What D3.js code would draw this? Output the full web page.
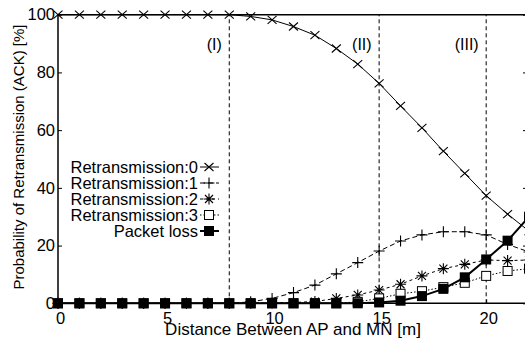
<!DOCTYPE html>
<html><head><meta charset="utf-8">
<script src="https://cdn.jsdelivr.net/npm/d3@7"></script>
<style>
body{margin:0;background:#fff;}
svg{display:block;}
text{font-family:"Liberation Sans",Arial,sans-serif;fill:#000;}
</style></head>
<body>
<script>
const distance = [0,1,2,3,4,5,6,7,8,9,10,11,12,13,14,15,16,17,18,19,20,21,22];
const retrans0 = [100,100,100,100,100,100,100,100,100,99.4,98.2,95.9,92.9,88.3,82.9,76.2,68.4,60.8,52.7,45.0,37.3,30.9,25.0];
const retrans1 = [0,0,0,0,0,0,0,0,0,0.5,1.7,3.7,6.3,10.2,14.1,18.1,21.6,23.7,24.8,24.8,23.7,20.4,17.8];
const retrans2 = [0,0,0,0,0,0,0,0,0,0,0.1,0.3,0.6,1.7,2.9,4.6,6.6,9.5,12.0,13.5,15.0,14.8,15.0];
const retrans3 = [0,0,0,0,0,0,0,0,0,0,0,0,0,0,0.5,1.7,3.3,4.2,5.6,7.1,9.5,11.2,12.0];
const packetLoss = [0,0,0,0,0,0,0,0,0,0,0,0,0,0,0,0.3,0.9,2.5,5.0,9.0,15.2,21.7,30.0];
const seriesNames = ["Retransmission:0","Retransmission:1","Retransmission:2","Retransmission:3","Packet loss"];
const xTicks = [0,5,10,15,20];
const yTicks = [0,20,40,60,80,100];
const regionBounds = [8,15,20];
const regionLabels = ["(I)","(II)","(III)"];
const xTitle = "Distance Between AP and MN [m]";
const yTitle = "Probability of Retransmission (ACK) [%]";

const W=525,H=341;
const svg=d3.select("body").append("svg").attr("width",W).attr("height",H);
const x=d3.scaleLinear().domain([0,22]).range([58,529]);
const y=d3.scaleLinear().domain([0,100]).range([303.3,14.7]);

const g=svg.append("g");
// frame
g.append("line").attr("x1",x(0)).attr("x2",W+5).attr("y1",y(100)).attr("y2",y(100)).attr("stroke","#000").attr("stroke-width",1.5);
g.append("line").attr("x1",x(0)).attr("x2",W+5).attr("y1",y(0)).attr("y2",y(0)).attr("stroke","#000").attr("stroke-width",1.5);
g.append("line").attr("x1",x(0)).attr("x2",x(0)).attr("y1",y(0)).attr("y2",y(100)).attr("stroke","#000").attr("stroke-width",1.5);
g.append("line").attr("x1",x(22)).attr("x2",x(22)).attr("y1",y(0)).attr("y2",y(100)).attr("stroke","#000").attr("stroke-width",1.5);

// axes
const xa=svg.append("g").attr("transform",`translate(0,${y(0)})`)
 .call(d3.axisBottom(x).tickValues(xTicks).tickSize(-4).tickPadding(8.5).tickFormat(d3.format("d")));
const ya=svg.append("g").attr("transform",`translate(${x(0)},0)`)
 .call(d3.axisLeft(y).tickValues(yTicks).tickSize(-4).tickPadding(3).tickFormat(d3.format("d")));
const ya2=svg.append("g").attr("transform",`translate(${x(22)},0)`)
 .call(d3.axisRight(y).tickValues(yTicks).tickSize(-6).tickFormat(""));
[xa,ya,ya2].forEach(a=>{a.select(".domain").remove();a.selectAll("text").style("font-size","16.5px").attr("font-family",null);a.selectAll("line").attr("stroke","#000");});
xa.selectAll("text").attr("dy","0.71em").attr("dx","2");

// region lines
regionBounds.forEach((b,i)=>{
  g.append("line").attr("x1",x(b)).attr("x2",x(b)).attr("y1",y(0)).attr("y2",y(100))
   .attr("stroke","#000").attr("stroke-width",1).attr("stroke-dasharray","4,3");
  g.append("text").attr("x",x(b)-7.5).attr("y",44).attr("dy","0.35em").attr("text-anchor","end").style("font-size","16px").text(regionLabels[i]);
});

const data=[retrans0,retrans1,retrans2,retrans3,packetLoss];
const dashes=[null,"5,3","3,3","1.5,2",null];
const widths=[1,1,1,1,2];
const line=d3.line().x((d,i)=>x(distance[i])).y(d=>y(d)).curve(d3.curveLinear);

function marker(sel,k,cx,cy){
  const gg=sel.append("g").attr("transform",`translate(${cx},${cy})`);
  const s="#000";
  if(k===0){
    gg.append("path").attr("d","M-4.5,-4L4.5,4M-4.5,4L4.5,-4").attr("stroke",s).attr("stroke-width",1.1).attr("fill","none");
  } else if(k===1){
    gg.append("path").attr("d","M-5.5,0L5.5,0M0,-5.5L0,5.5").attr("stroke",s).attr("stroke-width",1.1).attr("fill","none");
  } else if(k===2){
    gg.append("path").attr("d","M-5.5,0L5.5,0M0,-5.5L0,5.5M-4,-4L4,4M-4,4L4,-4").attr("stroke",s).attr("stroke-width",1.1).attr("fill","none");
  } else if(k===3){
    gg.append("rect").attr("x",-4.5).attr("y",-4.5).attr("width",9).attr("height",9).attr("fill","#fff").attr("stroke",s).attr("stroke-width",1);
  } else {
    gg.append("rect").attr("x",-5).attr("y",-5).attr("width",10).attr("height",10).attr("fill","#000");
  }
}

data.forEach((vals,k)=>{
  g.append("path").datum(vals).attr("d",line).attr("fill","none").attr("stroke","#000")
   .attr("stroke-width",widths[k]).attr("stroke-dasharray",dashes[k]);
  const mg=g.append("g");
  vals.forEach((v,i)=>marker(mg,k,x(distance[i]),y(v)));
});

// legend
const lg=svg.append("g");
seriesNames.forEach((n,k)=>{
  const ly=167+k*16;
  lg.append("text").attr("x",198).attr("y",ly).attr("dy","0.35em").attr("text-anchor","end").style("font-size","16.5px").text(n);
  lg.append("line").attr("x1",200).attr("x2",219).attr("y1",ly).attr("y2",ly).attr("stroke","#000").attr("stroke-width",widths[k]).attr("stroke-dasharray",dashes[k]);
  marker(lg,k,209,ly);
});

svg.append("text").attr("x",293).attr("y",335).attr("text-anchor","middle").style("font-size","17px").text(xTitle);
svg.append("text").attr("transform",`translate(24,157) rotate(-90)`).attr("text-anchor","middle").style("font-size","15px").text(yTitle);
</script>
</body></html>
